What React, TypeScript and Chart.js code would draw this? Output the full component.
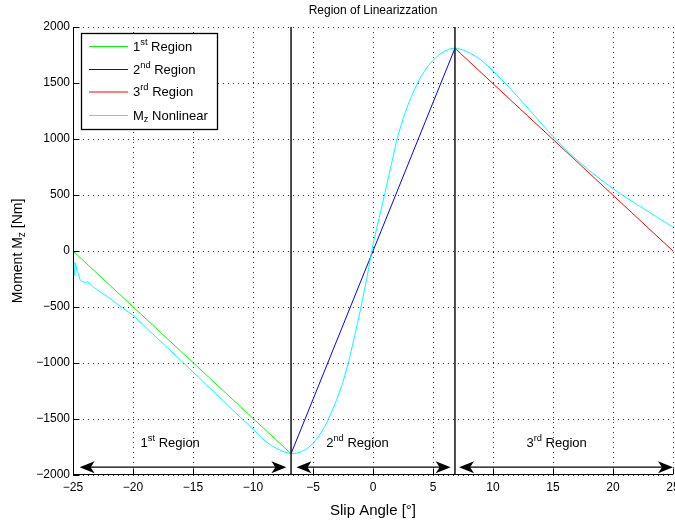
import React, { useEffect, useRef } from 'react';
import { Chart, registerables } from 'chart.js';

Chart.register(...registerables);

// ---------- data ----------
const xTicks = [-25, -20, -15, -10, -5, 0, 5, 10, 15, 20, 25];
const yTicks = [-2000, -1500, -1000, -500, 0, 500, 1000, 1500, 2000];

const region1X = [-25, -6.83];
const region1Y = [0, -1810];
const region2X = [-6.83, 6.83];
const region2Y = [-1810, 1810];
const region3X = [6.83, 25];
const region3Y = [1810, 0];

const boundaryX = [-6.83, 6.83];

const nonlinX = [
  -25, -24.93, -24.89, -24.84, -24.78, -24.69, -24.55, -24.42, -24.28, -24.0, -23.78, -23.58, -23.3,
  -22.6, -21.78, -21, -20, -19, -18, -17, -16, -15, -14, -13, -12, -11, -10, -9.5, -9, -8.5, -8,
  -7.5, -7, -6.5, -6, -5.5, -5, -4.5, -4, -3.5, -3, -2.5, -2, -1.5, -1, -0.5, 0, 0.5, 1, 1.5, 2,
  2.5, 3, 3.5, 4, 4.5, 5, 5.5, 6, 6.5, 7, 7.5, 8, 8.5, 9, 9.5, 10, 11, 12, 13, 14, 15, 16, 17, 18,
  19, 20, 21, 22, 23, 24, 25,
];
const nonlinY = [
  -98, -150, -217, -160, -107, -172, -202, -256, -268, -286, -274, -292, -321,
  -375, -434, -498, -574, -675, -776, -877, -978, -1080, -1182, -1285, -1388, -1490, -1590, -1645, -1695, -1735, -1765,
  -1790, -1806, -1809, -1795, -1765, -1720, -1650, -1565, -1450, -1320, -1170, -975, -745, -500, -235, 60, 290, 520, 760, 1000,
  1180, 1330, 1450, 1560, 1640, 1702, 1752, 1786, 1808, 1810, 1795, 1772, 1742, 1705, 1660, 1607, 1500, 1385, 1265, 1142, 1022, 912, 812, 720,
  636, 557, 484, 415, 348, 280, 214,
];

const arrowY = -1930;
const arrowStarts = [-24.45, -6.38, 7.17];
const arrowEnds = [-7.22, 6.47, 25];

const regionLabelX = [-16.9, -1.3, 15.3];
const regionLabelY = -1720;
const regionNumbers = ['1', '2', '3'];
const regionSuffixes = ['st', 'nd', 'rd'];

const titleText = 'Region of Linearizzation';
const xTitle = 'Slip Angle [°]';

// ---------- helpers ----------
const FAMILY = "'Liberation Sans', Arial, Helvetica, sans-serif";
const font = (s: number) => `${s}px ${FAMILY}`;

type Part = [string, number]; // 0 normal, 1 sup, -1 sub

function drawRich(ctx: CanvasRenderingContext2D, parts: Part[], x: number, y: number, size: number, align: 'left' | 'center') {
  const small = size * 0.72;
  let w = 0;
  for (const [t, m] of parts) {
    ctx.font = font(m ? small : size);
    w += ctx.measureText(t).width;
  }
  let cx = align === 'center' ? x - w / 2 : x;
  ctx.textAlign = 'left';
  ctx.textBaseline = 'middle';
  for (const [t, m] of parts) {
    ctx.font = font(m ? small : size);
    const dy = m === 1 ? -size * 0.38 : m === -1 ? size * 0.3 : 0;
    ctx.fillText(t, cx, y + dy);
    cx += ctx.measureText(t).width;
  }
  return w;
}

const fmt = (v: number) => String(v).replace('-', '\u2212');

const decorPlugin = {
  id: 'decor',
  beforeDatasetsDraw(chart: any) {
    const { ctx, chartArea: a, scales } = chart;
    const xs = scales.x, ys = scales.y;
    ctx.save();
    ctx.strokeStyle = '#303030';
    ctx.lineWidth = 1;
    ctx.setLineDash([1, 4]);
    for (const t of xTicks) {
      const px = Math.round(xs.getPixelForValue(t)) + 0.5;
      ctx.beginPath();
      ctx.moveTo(px, a.top);
      ctx.lineTo(px, a.bottom);
      ctx.stroke();
    }
    for (const t of yTicks) {
      const py = Math.round(ys.getPixelForValue(t)) + 0.5;
      ctx.beginPath();
      ctx.moveTo(a.left, py);
      ctx.lineTo(a.right, py);
      ctx.stroke();
    }
    ctx.restore();
  },
  afterDatasetsDraw(chart: any) {
    const { ctx, chartArea: a, scales } = chart;
    const xs = scales.x, ys = scales.y;
    ctx.save();
    // axes
    ctx.strokeStyle = '#000';
    ctx.lineWidth = 1;
    ctx.setLineDash([]);
    const ax = Math.round(a.left) + 0.5;
    const ay = Math.round(a.bottom) - 0.5;
    ctx.beginPath();
    ctx.moveTo(ax, a.top);
    ctx.lineTo(ax, a.bottom);
    ctx.moveTo(a.left, ay);
    ctx.lineTo(a.right, ay);
    ctx.stroke();
    // inward ticks
    ctx.beginPath();
    for (const t of xTicks) {
      const px = Math.round(xs.getPixelForValue(t)) + 0.5;
      ctx.moveTo(px, ay);
      ctx.lineTo(px, ay - 6);
    }
    for (const t of yTicks) {
      const py = Math.round(ys.getPixelForValue(t)) + 0.5;
      ctx.moveTo(ax, py);
      ctx.lineTo(ax + 6, py);
    }
    ctx.stroke();
    // tick labels
    ctx.fillStyle = '#000';
    ctx.font = font(12);
    ctx.textAlign = 'center';
    ctx.textBaseline = 'middle';
    for (const t of xTicks) {
      ctx.fillText(fmt(t), xs.getPixelForValue(t), a.bottom + 13);
    }
    ctx.textAlign = 'right';
    for (const t of yTicks) {
      ctx.fillText(fmt(t), a.left - 3, ys.getPixelForValue(t));
    }
    // arrows
    const py = ys.getPixelForValue(arrowY);
    ctx.lineWidth = 1.3;
    for (let i = 0; i < arrowStarts.length; i++) {
      const x1 = xs.getPixelForValue(arrowStarts[i]);
      const x2 = xs.getPixelForValue(arrowEnds[i]);
      ctx.beginPath();
      ctx.moveTo(x1 + 4, py);
      ctx.lineTo(x2 - 4, py);
      ctx.stroke();
      const head = (tx: number, dir: number) => {
        ctx.beginPath();
        ctx.moveTo(tx, py);
        ctx.lineTo(tx - dir * 15, py - 6);
        ctx.lineTo(tx - dir * 11, py);
        ctx.lineTo(tx - dir * 15, py + 6);
        ctx.closePath();
        ctx.fill();
      };
      head(x1, -1);
      head(x2, 1);
    }
    // region labels
    for (let i = 0; i < regionLabelX.length; i++) {
      drawRich(ctx, [[regionNumbers[i], 0], [regionSuffixes[i], 1], [' Region', 0]],
        xs.getPixelForValue(regionLabelX[i]), ys.getPixelForValue(regionLabelY), 13, 'center');
    }
    // legend
    const lx = 81.5, ly = 33.5, lw = 136, lh = 96;
    ctx.fillStyle = '#fff';
    ctx.fillRect(lx, ly, lw, lh);
    ctx.strokeStyle = '#000';
    ctx.lineWidth = 1.3;
    ctx.strokeRect(lx, ly, lw, lh);
    const entries: { color: string; parts: Part[] }[] = [
      { color: '#00ff00', parts: [['1', 0], ['st', 1], [' Region', 0]] },
      { color: '#0000ff', parts: [['2', 0], ['nd', 1], [' Region', 0]] },
      { color: '#ff0000', parts: [['3', 0], ['rd', 1], [' Region', 0]] },
      { color: '#00ffff', parts: [['M', 0], ['z', -1], [' Nonlinear', 0]] },
    ];
    const ey = [46, 69, 91.5, 115];
    entries.forEach((e, i) => {
      ctx.strokeStyle = e.color;
      ctx.lineWidth = 1;
      ctx.beginPath();
      ctx.moveTo(89, ey[i] + 0.5);
      ctx.lineTo(128, ey[i] + 0.5);
      ctx.stroke();
      ctx.fillStyle = '#000';
      drawRich(ctx, e.parts, 133, ey[i] + 1, 13, 'left');
    });
    // titles
    const cx = (a.left + a.right) / 2;
    ctx.fillStyle = '#000';
    ctx.font = font(12);
    ctx.textAlign = 'center';
    ctx.textBaseline = 'middle';
    ctx.fillText(titleText, cx, 11);
    ctx.font = font(15);
    ctx.fillText(xTitle, cx, 511);
    ctx.save();
    ctx.translate(18, (a.top + a.bottom) / 2);
    ctx.rotate(-Math.PI / 2);
    drawRich(ctx, [['Moment M', 0], ['z', -1], [' [Nm]', 0]], 0, 0, 14, 'center');
    ctx.restore();
    ctx.restore();
  },
};

const toPts = (xs: number[], ys: number[]) => xs.map((x, i) => ({ x, y: ys[i] }));

export default function App() {
  const ref = useRef<HTMLCanvasElement>(null);
  useEffect(() => {
    if (!ref.current) return;
    const line = (data: any[], color: string, order: number, width = 1) => ({
      data,
      showLine: true,
      borderColor: color,
      backgroundColor: color,
      borderWidth: width,
      pointRadius: 0,
      pointHoverRadius: 0,
      fill: false,
      tension: 0,
      order,
    });
    const chart = new Chart(ref.current, {
      type: 'scatter',
      data: {
        datasets: [
          line(toPts(region1X, region1Y), '#00ff00', 3),
          line(toPts(region2X, region2Y), '#0000ff', 3),
          line(toPts(region3X, region3Y), '#ff0000', 3),
          line(toPts(nonlinX, nonlinY), '#00ffff', 2),
          line(toPts([boundaryX[0], boundaryX[0]], [-2000, 2000]), '#000000', 1, 1.4),
          line(toPts([boundaryX[1], boundaryX[1]], [-2000, 2000]), '#000000', 1, 1.4),
        ],
      },
      options: {
        responsive: false,
        devicePixelRatio: 1,
        animation: false,
        layout: { padding: { left: 73, right: 2, top: 27, bottom: 53 } },
        scales: {
          x: { type: 'linear', min: -25, max: 25, display: false },
          y: { type: 'linear', min: -2000, max: 2000, display: false },
        },
        plugins: {
          legend: { display: false },
          tooltip: { enabled: false },
          title: { display: false },
        },
      },
      plugins: [decorPlugin],
    } as any);
    return () => chart.destroy();
  }, []);
  return (
    <div style={{ position: 'absolute', left: 0, top: 0, width: 675, height: 528, background: '#fff' }}>
      <canvas ref={ref} width={675} height={528} style={{ display: 'block', width: 675, height: 528 }} />
    </div>
  );
}
